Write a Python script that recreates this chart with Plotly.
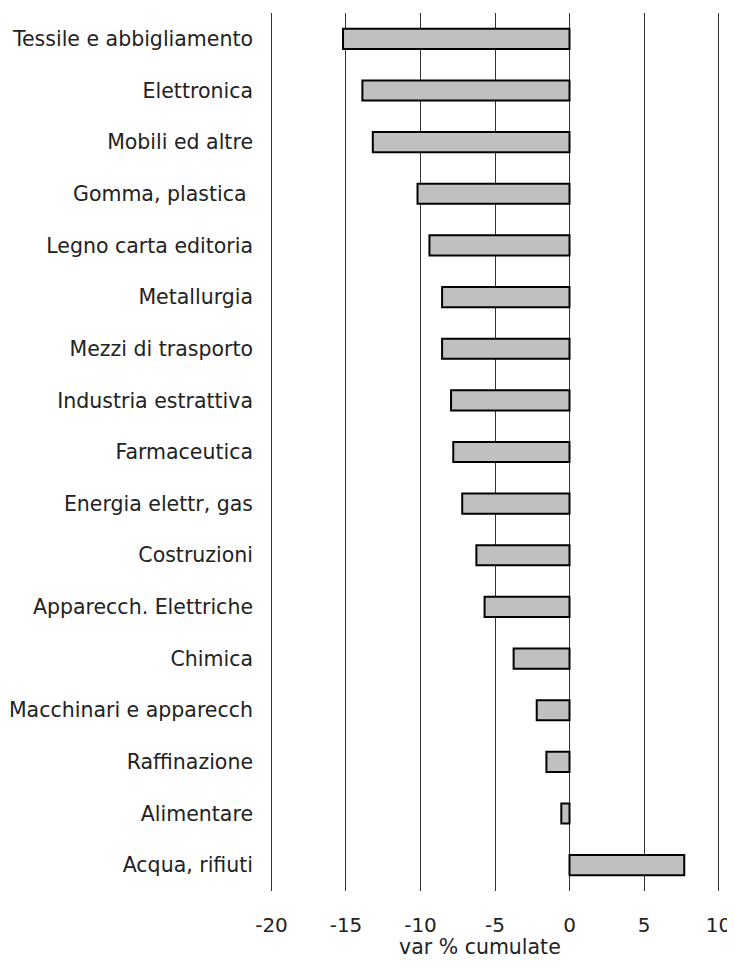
import plotly.graph_objects as go

# Settori (dall'alto verso il basso)
settori = [
    "Tessile e abbigliamento", "Elettronica", "Mobili ed altre", "Gomma, plastica ",
    "Legno carta editoria", "Metallurgia", "Mezzi di trasporto", "Industria estrattiva",
    "Farmaceutica", "Energia elettr, gas", "Costruzioni", "Apparecch. Elettriche",
    "Chimica", "Macchinari e apparecch", "Raffinazione", "Alimentare", "Acqua, rifiuti",
]
var_cumulate = [
    -15.2, -13.9, -13.2, -10.2, -9.4, -8.55, -8.55, -7.95, -7.8, -7.2,
    -6.25, -5.7, -3.75, -2.2, -1.55, -0.55, 7.7,
]
x_ticks = [-20, -15, -10, -5, 0, 5, 10]
x_ticktext = ["-20", "-15", "-10", "-5", "0", "5", "10"]

fig = go.Figure(
    go.Bar(
        x=var_cumulate,
        y=settori,
        orientation="h",
        marker=dict(color="#C0C0C0", line=dict(color="black", width=2)),
    )
)

# la pagina html ha un margine di 8px attorno al grafico
fig.update_layout(
    width=727,
    height=951,
    margin=dict(l=262, r=15, t=5, b=68),
    plot_bgcolor="white",
    paper_bgcolor="white",
    bargap=0.61,
    showlegend=False,
    font=dict(family="DejaVu Sans", size=20.5, color="#222222"),
)

fig.update_xaxes(
    range=[-20.1, 10.1],
    tickvals=x_ticks,
    ticktext=x_ticktext,
    showgrid=True,
    gridcolor="#333333",
    gridwidth=1,
    zeroline=False,
    showline=False,
    ticks="",
    automargin=False,
    ticklabeloverflow="allow",
    ticklabelstandoff=20,
    tickfont=dict(size=20),
)

fig.update_yaxes(
    categoryorder="array",
    categoryarray=settori,
    autorange="reversed",
    showgrid=False,
    showline=False,
    ticks="",
    automargin=False,
    ticklabelstandoff=16,
)

# titolo asse x (un po' a sinistra del centro, come nell'originale)
fig.add_annotation(
    text="var % cumulate",
    xref="paper", yref="paper",
    x=0.467, y=-0.064,
    xanchor="center", yanchor="middle",
    showarrow=False,
    font=dict(size=20.5),
)

fig.write_html("out.html")
